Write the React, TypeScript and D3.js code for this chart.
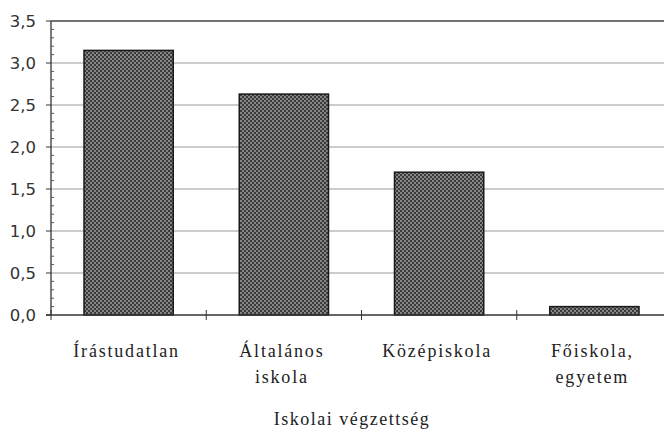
import React from 'react'
import * as d3 from 'd3'

const categories: string[][] = [
  ['Írástudatlan'],
  ['Általános', 'iskola'],
  ['Középiskola'],
  ['Főiskola,', 'egyetem'],
]
const values = [3.15, 2.63, 1.7, 0.1]
const majorTicks = [0, 0.5, 1, 1.5, 2, 2.5, 3, 3.5]
const xTitle = 'Iskolai végzettség'

const W = 664
const H = 438

export default function App() {
  const left = 51
  const right = 672
  const top = 21
  const bottom = 315

  const x = d3.scaleBand<number>().domain(d3.range(categories.length)).range([left, right]).padding(0)
  const y = d3.scaleLinear().domain([0, 3.5]).range([bottom, top])
  const barW = x.step() * 0.575
  const minor = d3.range(0, 3.5001, 0.1).filter(v => Math.abs(v * 2 - Math.round(v * 2)) > 1e-6)
  const fmt = (v: number) => d3.format('.1f')(v).replace('.', ',')
  const serif = '"Liberation Serif", "DejaVu Serif", serif'

  return (
    <svg width={W} height={H} style={{ position: 'absolute', left: 0, top: 0, background: '#fff' }}>
      <defs>
        <pattern id="dots" width="4" height="4" patternUnits="userSpaceOnUse">
          <rect width="4" height="4" fill="#3a3a3a" />
          <circle cx="1" cy="1" r="0.9" fill="#aaa" />
          <circle cx="3" cy="3" r="0.9" fill="#aaa" />
        </pattern>
      </defs>

      {/* grid lines */}
      {majorTicks.slice(1).map(t => (
        <line key={t} x1={left} x2={right} y1={y(t)} y2={y(t)}
          stroke={t === 3.5 ? '#444' : '#999'} strokeWidth={t === 3.5 ? 1.6 : 1} />
      ))}

      {/* bars */}
      {values.map((v, i) => (
        <rect key={i} x={x(i)! + (x.step() - barW) / 2} y={y(v)} width={barW} height={y(0) - y(v)}
          fill="url(#dots)" stroke="#1a1a1a" strokeWidth={1.5} />
      ))}

      {/* y axis */}
      <line x1={left} x2={left} y1={top} y2={bottom} stroke="#333" strokeWidth={1.3} />
      {majorTicks.map(t => (
        <g key={t}>
          <line x1={left - 5} x2={left} y1={y(t)} y2={y(t)} stroke="#333" />
          <text x={36} y={y(t)} dy="0.35em" textAnchor="end" fontSize={16.5}
            fontFamily='"DejaVu Sans", sans-serif' fill="#333">{fmt(t)}</text>
        </g>
      ))}
      {minor.map(t => (
        <line key={t} x1={left} x2={left + 3} y1={y(t)} y2={y(t)} stroke="#555" />
      ))}

      {/* x axis */}
      <line x1={left - 5} x2={right} y1={bottom} y2={bottom} stroke="#333" strokeWidth={1.3} />
      {d3.range(categories.length + 1).map(i => (
        <line key={i} x1={left + i * x.step()} x2={left + i * x.step()} y1={bottom - 5} y2={bottom + 5} stroke="#333" />
      ))}
      {categories.map((lines, i) => (
        <text key={i} x={x(i)! + x.step() / 2 - 2} y={357} textAnchor="middle" fontSize={18}
          letterSpacing={1.8} fontFamily={serif} fill="#222">
          {lines.map((l, j) => (
            <tspan key={j} x={x(i)! + x.step() / 2 - 2} dy={j === 0 ? 0 : 26}>{l}</tspan>
          ))}
        </text>
      ))}
      <text x={352} y={425} textAnchor="middle" fontSize={18} letterSpacing={1.5}
        fontFamily={serif} fill="#222">{xTitle}</text>
    </svg>
  )
}
